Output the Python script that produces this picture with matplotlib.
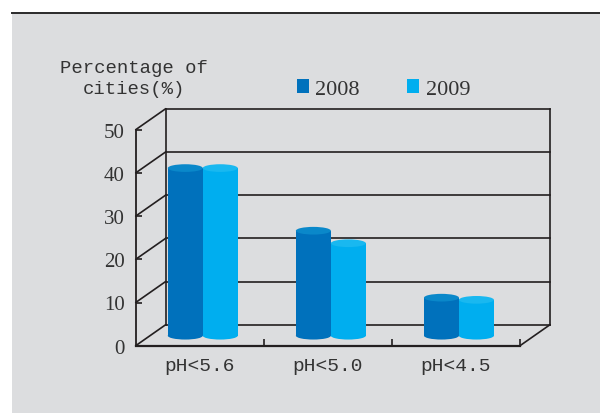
# Acid rain cities chart, pseudo-3D cylinder bars.
import matplotlib
matplotlib.use('Agg')
import matplotlib.pyplot as plt
from matplotlib import transforms
from matplotlib.patches import Rectangle, Ellipse, ConnectionPatch, Patch

# Data.
categories = ['pH<5.6', 'pH<5.0', 'pH<4.5']
pct_2008 = [38.8, 24.3, 8.8]
pct_2009 = [38.8, 21.4, 8.3]
years = ['2008', '2009']
y_ticks = [0, 10, 20, 30, 40, 50]

# Colours.
bg = '#dcdddf'
line_c = '#231f20'
body_c = ['#0071bc', '#00aeef']
top_c = ['#0a88ca', '#19b8f0']

fig = plt.figure(figsize=(6, 4.14), dpi=100)
fig.patch.set_facecolor('white')

# Gray panel and top rule.
fig.patches.append(Rectangle((11.5 / 600, 0), 1, (414 - 13.5) / 414,
	transform=fig.transFigure, facecolor=bg, edgecolor='none', zorder=-10))
fig.add_artist(plt.Line2D([11.5 / 600, 1], [(414 - 13.5) / 414] * 2,
	transform=fig.transFigure, color='#2a2a2a', lw=1.4, zorder=-5))

# Front plane axes.
ax = fig.add_axes([135.7 / 600, (414 - 346.7) / 414, 384.3 / 600, 216 / 414])
ax.set_facecolor('none')
ax.set_xlim(0, 3)
ax.set_ylim(0, 50)
for s in ['top', 'right']:
	ax.spines[s].set_visible(False)
for s in ['left', 'bottom']:
	ax.spines[s].set_color(line_c)
	ax.spines[s].set_linewidth(1.3)
ax.spines['bottom'].set_linewidth(1.6)

# Back wall is the front plane shifted in pixels.
back = transforms.offset_copy(ax.transData, fig=fig, x=30, y=21, units='dots')
mid = transforms.offset_copy(ax.transData, fig=fig, x=3, y=10, units='dots')

for y in y_ticks:
	ax.plot([0, 3], [y, y], transform=back, color=line_c, lw=1.2, clip_on=False, zorder=1)
	ax.add_artist(ConnectionPatch(xyA=(0, y), coordsA=ax.transData,
		xyB=(0, y), coordsB=back, color=line_c, lw=1.2, zorder=1))
ax.plot([0, 0], [0, 50], transform=back, color=line_c, lw=1.2, clip_on=False, zorder=1)
ax.plot([3, 3], [0, 50], transform=back, color=line_c, lw=1.2, clip_on=False, zorder=1)
ax.add_artist(ConnectionPatch(xyA=(3, 0), coordsA=ax.transData,
	xyB=(3, 0), coordsB=back, color=line_c, lw=1.2, zorder=1))

# Cylinder bars.
w = 0.273
eh = 1.78
for k, vals in enumerate([pct_2008, pct_2009]):
	for i, v in enumerate(vals):
		xc = i + 0.5 + (k - 0.5) * w
		ax.add_patch(Ellipse((xc, 0), w, eh, transform=mid, facecolor=body_c[k],
			edgecolor='none', clip_on=False, zorder=3 + k))
		ax.add_patch(Rectangle((xc - w / 2, 0), w, v, transform=mid, facecolor=body_c[k],
			edgecolor='none', clip_on=False, zorder=3 + k))
		ax.add_patch(Ellipse((xc, v), w, eh, transform=mid, facecolor=top_c[k],
			edgecolor='none', clip_on=False, zorder=3 + k))

# Ticks and labels.
ax.set_yticks(y_ticks)
ax.set_yticklabels([str(t) for t in y_ticks], fontfamily='Liberation Serif',
	fontsize=15, color='#333333')
ax.tick_params(axis='y', direction='in', length=4, width=1.2, color=line_c, pad=8)
ax.set_xticks([1, 2, 3])
ax.set_xticklabels([])
ax.tick_params(axis='x', which='major', direction='in', length=5, width=1.2, color=line_c)
ax.set_xticks([0.5, 1.5, 2.5], minor=True)
ax.set_xticklabels(categories, minor=True, fontfamily='Liberation Mono',
	fontsize=14, color='#333333')
ax.tick_params(axis='x', which='minor', length=0, pad=8)

fig.text(134 / 600, (414 - 79.3) / 414, 'Percentage of\ncities(%)',
	ha='center', va='center', multialignment='center', linespacing=1.3,
	fontfamily='Liberation Mono', fontsize=13.6, color='#333333')

handles = [Patch(facecolor=body_c[k], edgecolor='none', label=years[k]) for k in range(2)]
leg = ax.legend(handles=handles, ncol=2, frameon=False, loc='center left',
	bbox_to_anchor=(296.6 / 600, (414 - 90) / 414), bbox_transform=fig.transFigure,
	handlelength=0.55, handleheight=0.6, handletextpad=0.3, columnspacing=2.1,
	borderpad=0, borderaxespad=0,
	prop={'family': 'Liberation Serif', 'size': 16})
for t in leg.get_texts():
	t.set_color('#333333')

fig.savefig('out.png', dpi=100, facecolor=fig.get_facecolor())
